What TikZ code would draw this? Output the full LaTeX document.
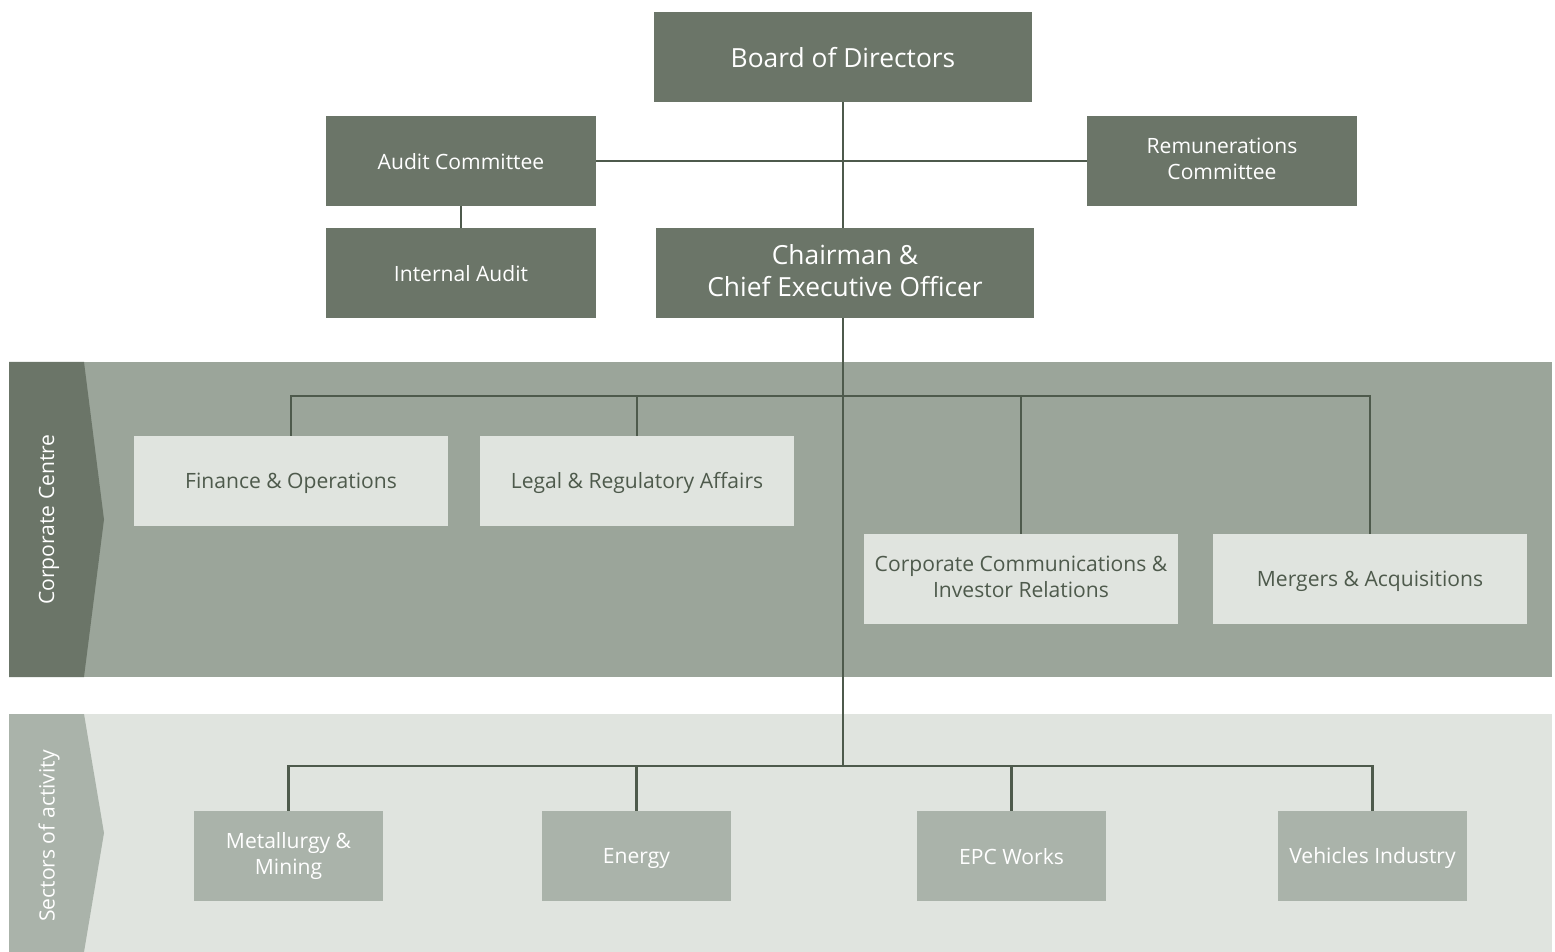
\documentclass[tikz,border=0pt]{standalone}
\usepackage{fontspec}
\setmainfont{Open Sans}
\usepackage{tikz}
\definecolor{boarddark}{HTML}{6B7568}
\definecolor{bandmid}{HTML}{9BA59A}
\definecolor{boxlight}{HTML}{E0E4DF}
\definecolor{sectorbox}{HTML}{AAB3AA}
\definecolor{linkcol}{HTML}{4E5A4C}
\definecolor{textdark}{HTML}{4E5A4C}
\newcommand\boxstrut{\rule[-0.2em]{0pt}{1.18em}}

\begin{document}
\begin{tikzpicture}[x=0.02cm,y=-0.02cm,
		boxtext/.style={align=center,inner sep=0pt,minimum height=1.8cm,execute at begin node=\boxstrut,execute at end node=\boxstrut},
		govbox/.style={boxtext,fill=boarddark,text=white},
		deptbox/.style={boxtext,fill=boxlight,text=textdark,minimum width=6.28cm,font=\fontsize{12}{14.7}\selectfont},
		sectbox/.style={boxtext,fill=sectorbox,text=white,minimum width=3.78cm,font=\fontsize{12}{14.7}\selectfont},
		link/.style={draw=linkcol,line width=1.5pt},
		bandlabel/.style={text=white,rotate=90,font=\fontsize{12}{14.7}\selectfont}]
		\useasboundingbox (0,0) rectangle (1555,952);
		% bands
		\fill[bandmid] (9,362) rectangle (1552,677);
		\fill[boarddark] (9,362) -- (84,362) -- (104,519.5) -- (84,677) -- (9,677) -- cycle;
		\fill[boxlight] (9,714) rectangle (1552,952);
		\fill[sectorbox] (9,714) -- (84,714) -- (104,833) -- (84,952) -- (9,952) -- cycle;
		\node[bandlabel] (cclabel) at (49,519.5) {Corporate Centre};
		\node[bandlabel] (salabel) at (49,836) {Sectors of activity};
		% governance
		\node[govbox,minimum width=7.56cm,font=\fontsize{15}{18}\selectfont] (board) at (843,57) {Board of Directors};
		\node[govbox,minimum width=5.4cm,font=\fontsize{12}{14.7}\selectfont] (audit) at (461,161) {Audit Committee};
		\node[govbox,minimum width=5.4cm,font=\fontsize{12}{14.7}\selectfont] (remun) at (1222,161) {Remunerations\\Committee};
		\node[govbox,minimum width=5.4cm,font=\fontsize{12}{14.7}\selectfont] (internal) at (461,273) {Internal Audit};
		\node[govbox,minimum width=7.56cm,font=\fontsize{15}{18}\selectfont] (ceo) at (845,273) {Chairman \&\\Chief Executive Officer};
		% corporate centre
		\node[deptbox] (fin) at (291,481) {Finance \& Operations};
		\node[deptbox] (legal) at (637,481) {Legal \& Regulatory Affairs};
		\node[deptbox] (comm) at (1021,579) {Corporate Communications \&\\Investor Relations};
		\node[deptbox] (mna) at (1370,579) {Mergers \& Acquisitions};
		% sectors
		\node[sectbox] (metal) at (288.5,856) {Metallurgy \&\\Mining};
		\node[sectbox] (energy) at (636.5,856) {Energy};
		\node[sectbox] (epc) at (1011.5,856) {EPC Works};
		\node[sectbox] (vehicles) at (1372.5,856) {Vehicles Industry};
		\coordinate (bus1) at (843,396);
		\coordinate (bus2) at (843,766);
		% connectors
		\draw[link] (audit.east) -- (remun.west);
		\draw[link] (audit.south) -- (internal.north);
		\draw[link] (board.south) -- (board.south |- ceo.north);
		\draw[link] (ceo.south -| bus2) -- (bus2);
		\draw[link] (fin.north) |- (bus1) -| (mna.north);
		\draw[link] (legal.north) -- (legal.north |- bus1);
		\draw[link] (comm.north) -- (comm.north |- bus1);
		\draw[link] (metal.north) |- (bus2) -| (vehicles.north);
		\draw[link] (energy.north) -- (energy.north |- bus2);
		\draw[link] (epc.north) -- (epc.north |- bus2);
\end{tikzpicture}
\end{document}
